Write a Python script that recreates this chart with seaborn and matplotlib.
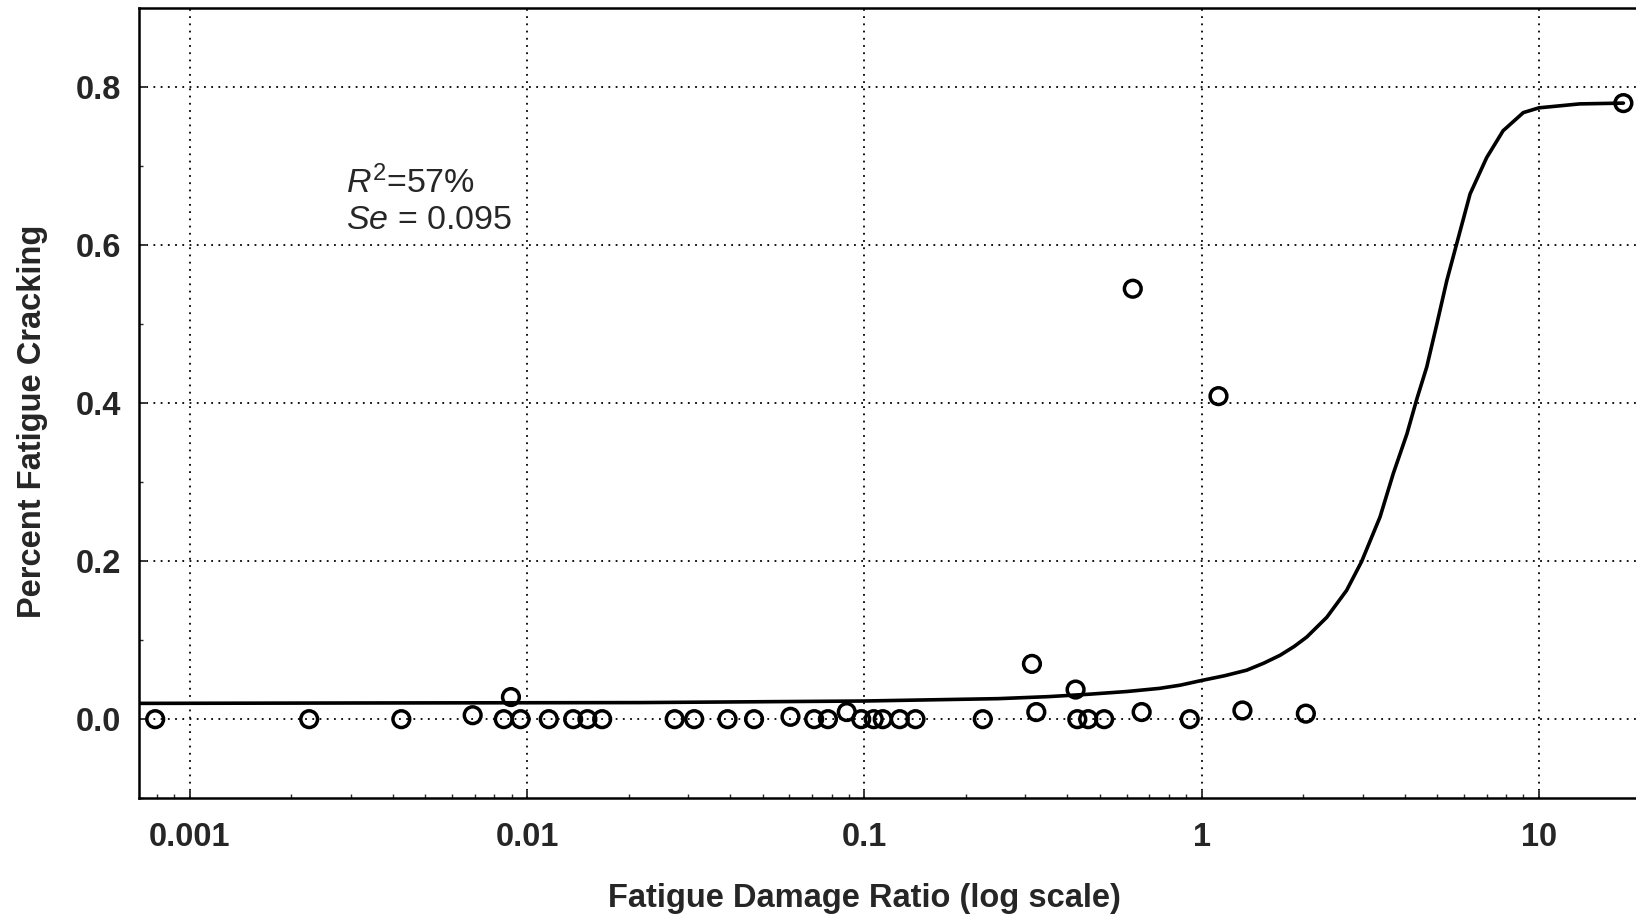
import matplotlib
matplotlib.use("Agg")
import matplotlib.pyplot as plt
import seaborn as sns
import pandas as pd
from matplotlib.ticker import FixedLocator, FixedFormatter, NullFormatter, LogLocator

# ---- data ----
damage_ratio = [0.00079, 0.00226, 0.00424, 0.0069, 0.00853, 0.00896, 0.00957,
                0.0116, 0.0137, 0.0151, 0.0167, 0.0274, 0.0313, 0.0393, 0.0471,
                0.0604, 0.0710, 0.0780, 0.0887, 0.0979, 0.1066, 0.1134, 0.1274,
                0.1418, 0.2245, 0.314, 0.3235, 0.423, 0.428, 0.461, 0.514,
                0.625, 0.664, 0.922, 1.122, 1.321, 2.037, 17.8]
cracking = [0.0, 0.0, 0.0, 0.005, 0.0, 0.028, 0.0,
            0.0, 0.0, 0.0, 0.0, 0.0, 0.0, 0.0, 0.0,
            0.003, 0.0, 0.0, 0.009, 0.0, 0.0, 0.0, 0.0,
            0.0, 0.0, 0.07, 0.009, 0.0375, 0.0, 0.0, 0.0,
            0.545, 0.009, 0.0, 0.409, 0.011, 0.007, 0.78]

fit_ratio = [0.000706, 0.00316, 0.0216, 0.1, 0.25, 0.35, 0.46, 0.6, 0.75, 0.863,
             1.0, 1.17, 1.36, 1.53, 1.71, 1.88, 2.05, 2.35, 2.69, 2.98, 3.38,
             3.70, 4.06, 4.35, 4.65, 4.98, 5.33, 5.68, 6.25, 7.0, 7.83, 8.99,
             10.0, 13.2, 17.8]
fit_cracking = [0.020, 0.0205, 0.021, 0.023, 0.026, 0.0285, 0.0315, 0.035, 0.039, 0.043,
                0.049, 0.055, 0.062, 0.071, 0.081, 0.092, 0.104, 0.129, 0.163, 0.1995,
                0.256, 0.311, 0.361, 0.406, 0.446, 0.500, 0.555, 0.599, 0.665, 0.711,
                0.745, 0.768, 0.774, 0.779, 0.780]

x_ticks = [0.001, 0.01, 0.1, 1, 10]
x_tick_labels = ["0.001", "0.01", "0.1", "1", "10"]
y_ticks = [0.0, 0.2, 0.4, 0.6, 0.8]
y_tick_labels = ["0.0", "0.2", "0.4", "0.6", "0.8"]

pts = pd.DataFrame({"ratio": damage_ratio, "crack": cracking})
fit = pd.DataFrame({"ratio": fit_ratio, "crack": fit_cracking})

sns.set_style("ticks")
plt.rcParams["font.family"] = ["Liberation Sans", "DejaVu Sans"]
plt.rcParams["mathtext.fontset"] = "custom"
plt.rcParams["mathtext.rm"] = "Liberation Sans"
plt.rcParams["mathtext.it"] = "Liberation Sans:italic"
plt.rcParams["mathtext.bf"] = "Liberation Sans:bold"

fig = plt.figure(figsize=(16.36, 9.15), dpi=100)
ax = fig.add_axes([0.0848, 0.1277, 0.9152, 0.8632])

sns.lineplot(data=fit, x="ratio", y="crack", ax=ax, color="black", linewidth=2.6,
             sort=True, zorder=3)
sns.scatterplot(data=pts, x="ratio", y="crack", ax=ax, marker="o", s=145,
                facecolor="none", edgecolor="black", linewidth=2.5, zorder=4)

ax.set_xscale("log")
ax.set_xlim(0.000706, 19.4)
ax.set_ylim(-0.1, 0.9)

ax.xaxis.set_major_locator(FixedLocator(x_ticks))
ax.xaxis.set_major_formatter(FixedFormatter(x_tick_labels))
ax.xaxis.set_minor_locator(LogLocator(base=10, subs=range(2, 10)))
ax.xaxis.set_minor_formatter(NullFormatter())
ax.yaxis.set_major_locator(FixedLocator(y_ticks))
ax.yaxis.set_major_formatter(FixedFormatter(y_tick_labels))
ax.yaxis.set_minor_locator(FixedLocator([-0.1, 0.1, 0.3, 0.5, 0.7]))

ax.grid(True, which="major", color="black", linestyle=(0, (1, 3)), linewidth=1.3)
ax.tick_params(axis="both", which="major", direction="in", length=5, width=1.3,
               labelsize=23.5)
ax.tick_params(axis="both", which="minor", direction="in", length=3, width=1)
ax.tick_params(axis="x", which="major", pad=17)
ax.tick_params(axis="y", which="major", pad=13)
for lab in ax.get_xticklabels() + ax.get_yticklabels():
    lab.set_fontweight("bold")

for side in ["left", "bottom", "top"]:
    ax.spines[side].set_color("black")
    ax.spines[side].set_linewidth(1.8)
ax.spines["right"].set_visible(False)

ax.set_xlabel("Fatigue Damage Ratio (log scale)", fontsize=23.5, fontweight="bold",
              labelpad=22)
ax.set_ylabel("Percent Fatigue Cracking", fontsize=23.5, fontweight="bold",
              labelpad=20)
ax.xaxis.label.set_x(0.485)
ax.yaxis.label.set_y(0.477)

ax.text(0.1384, 0.766, r"$\mathit{R}^{2}$=57%", transform=ax.transAxes,
        fontsize=24.5, ha="left", va="baseline")
ax.text(0.1384, 0.720, r"$\mathit{Se}$ = 0.095", transform=ax.transAxes,
        fontsize=24.5, ha="left", va="baseline")

fig.savefig("out.png", dpi=100)
